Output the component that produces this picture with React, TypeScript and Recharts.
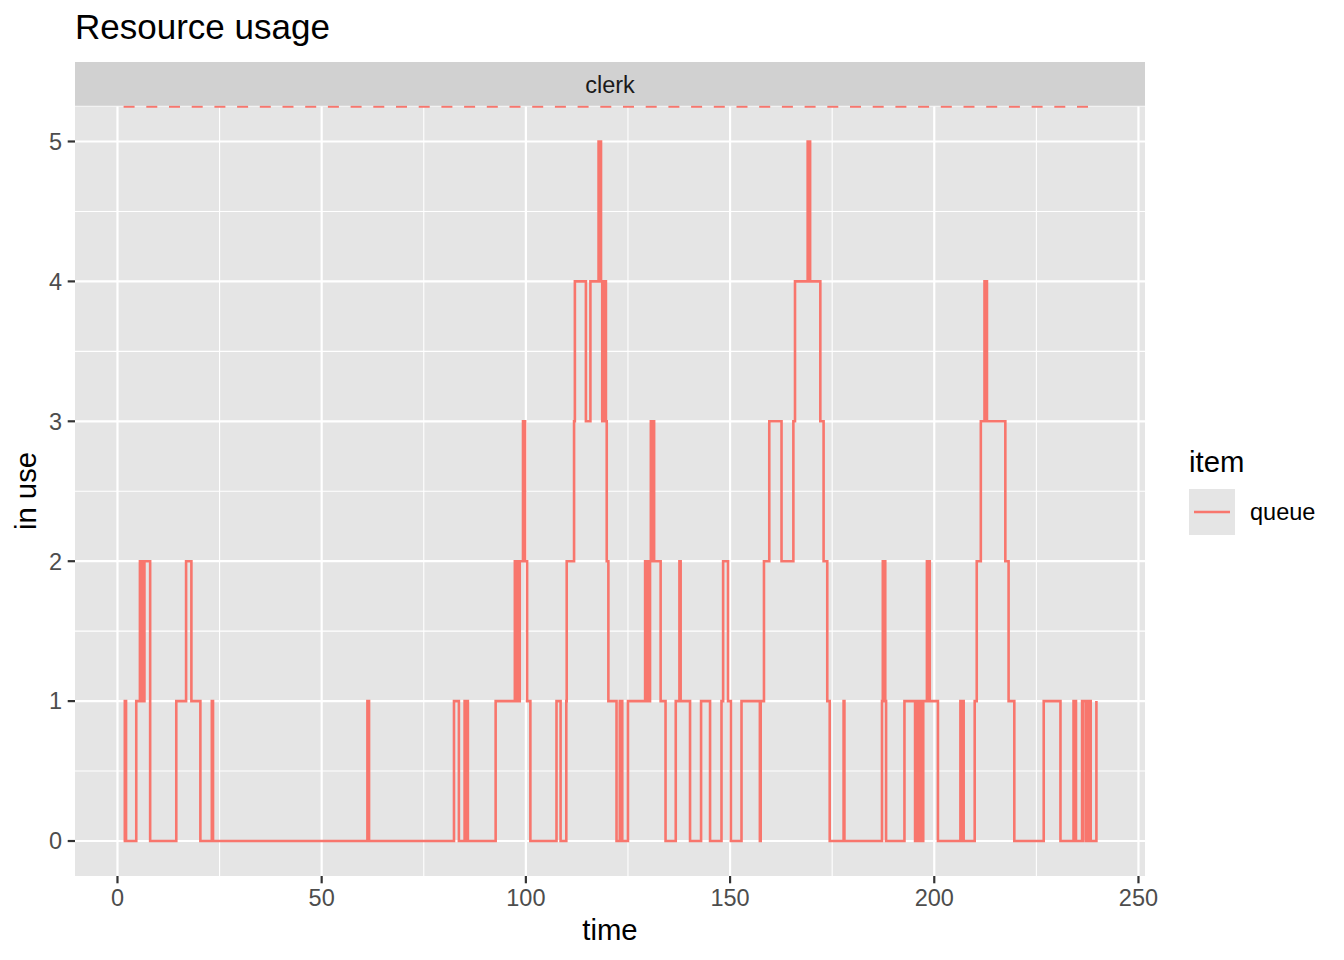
import React from "react";
import { LineChart, Line, XAxis, YAxis, CartesianGrid, ReferenceLine } from "recharts";

// Change points of the "queue" step series (time, value)
const times = [
  1.5, 1.8, 2.1, 4.6, 5.5, 5.8, 6.1, 6.4, 6.6, 8.0,
  14.4, 16.8, 18.1, 20.3, 23.1, 23.4, 61.2, 61.6, 82.4, 83.6,
  85.0, 85.3, 85.5, 85.8, 92.6, 97.3, 97.6, 97.9, 98.2, 98.5,
  99.3, 99.5, 99.6, 99.8, 100.3, 101.1, 107.5, 108.5, 109.9, 110.0,
  111.8, 112.0, 114.7, 115.8, 117.8, 118.0, 118.2, 118.4, 118.7, 118.9,
  119.2, 119.4, 119.6, 119.8, 120.2, 122.2, 123.0, 123.6, 125.0, 129.2,
  129.5, 129.8, 130.1, 130.4, 130.6, 130.9, 131.1, 131.4, 133.0, 134.2,
  136.7, 137.6, 137.9, 140.2, 142.9, 145.1, 147.9, 148.3, 149.5, 150.2,
  152.8, 157.3, 157.5, 158.3, 159.6, 162.6, 165.5, 165.9, 169.0, 169.2,
  169.4, 169.6, 172.1, 172.9, 173.8, 174.4, 177.8, 178.0, 187.2, 187.4,
  187.6, 187.8, 188.0, 188.2, 192.7, 195.3, 195.6, 195.9, 196.2, 196.5,
  196.8, 197.1, 197.3, 198.2, 198.4, 198.6, 198.9, 200.9, 206.4, 206.6,
  206.9, 207.2, 209.9, 210.4, 211.4, 212.3, 212.5, 212.7, 212.9, 217.4,
  218.2, 219.6, 226.8, 230.9, 234.1, 234.3, 234.5, 234.7, 236.2, 236.35,
  236.5, 237.2, 237.8, 238.3, 239.7,
];
const queueValues = [
  0, 1, 0, 1, 2, 1, 2, 1, 2, 0,
  1, 2, 1, 0, 1, 0, 1, 0, 1, 0,
  1, 0, 1, 0, 1, 2, 1, 2, 1, 2,
  3, 2, 3, 2, 1, 0, 1, 0, 1, 2,
  3, 4, 3, 4, 5, 4, 5, 4, 3, 4,
  3, 4, 3, 2, 1, 0, 1, 0, 1, 2,
  1, 2, 1, 2, 3, 2, 3, 2, 1, 0,
  1, 2, 1, 0, 1, 0, 1, 2, 1, 0,
  1, 0, 1, 2, 3, 2, 3, 4, 5, 4,
  5, 4, 3, 2, 1, 0, 1, 0, 1, 2,
  1, 2, 1, 0, 1, 0, 1, 0, 1, 0,
  1, 0, 1, 2, 1, 2, 1, 0, 1, 0,
  1, 0, 1, 2, 3, 4, 3, 4, 3, 2,
  1, 0, 1, 0, 1, 0, 1, 0, 1, 0,
  1, 0, 1, 0, 1,
];

// Dashed capacity line (drawn at the panel top)
const limitStart = 1.5;
const limitEnd = 239.7;
const limitLevel = 5.25;

const xDomain = [-10.4, 251.6];
const yDomain = [-0.25, 5.25];
const xTicks = [0, 50, 100, 150, 200, 250];
const xMinorTicks = [25, 75, 125, 175, 225];
const yTicks = [0, 1, 2, 3, 4, 5];
const yMinorTicks = [0.5, 1.5, 2.5, 3.5, 4.5];

const titleText = "Resource usage";
const stripLabel = "clerk";
const xLabel = "time";
const yLabel = "in use";
const legendTitle = "item";
const legendItem = "queue";

const data = times.map((t, i) => ({ time: t, value: queueValues[i] }));

const FONT = "'Liberation Sans', Arial, Helvetica, sans-serif";
const RED = "#F8766D";
const PANEL = "#E5E5E5";
const STRIP = "#D1D1D1";

export default function App() {
  return (
    <div style={{ position: "absolute", left: 0, top: 0, width: 1344, height: 960, background: "#fff", fontFamily: FONT }}>
      <LineChart
        width={1344}
        height={960}
        data={data}
        margin={{ top: 106.5, right: 199, bottom: 0, left: 0 }}
      >
        <CartesianGrid
          fill={PANEL}
          stroke="#FFFFFF"
          strokeWidth={1.1}
          horizontalValues={yMinorTicks}
          verticalValues={xMinorTicks}
        />
        <CartesianGrid
          stroke="#FFFFFF"
          strokeWidth={2.2}
          horizontalValues={yTicks}
          verticalValues={xTicks}
        />
        <XAxis
          dataKey="time"
          type="number"
          domain={xDomain}
          ticks={xTicks}
          allowDataOverflow
          height={84}
          axisLine={false}
          tickSize={7.3}
          tickMargin={5.7}
          tickLine={{ stroke: "#333333", strokeWidth: 2.2 }}
          tick={{ fill: "#4D4D4D", fontSize: 23.5, fontFamily: FONT }}
          interval={0}
        />
        <YAxis
          type="number"
          domain={yDomain}
          ticks={yTicks}
          allowDataOverflow
          width={75}
          axisLine={false}
          tickSize={7.3}
          tickMargin={5.7}
          tickLine={{ stroke: "#333333", strokeWidth: 2.2 }}
          tick={{ fill: "#4D4D4D", fontSize: 23.5, fontFamily: FONT }}
          interval={0}
        />
        <ReferenceLine
          segment={[
            { x: limitStart, y: limitLevel },
            { x: limitEnd, y: limitLevel },
          ]}
          stroke={RED}
          strokeWidth={2.4}
          strokeDasharray="11 11.7"
          ifOverflow="visible"
        />
        <Line
          type="stepAfter"
          dataKey="value"
          stroke={RED}
          strokeWidth={2.6}
          dot={false}
          activeDot={false}
          isAnimationActive={false}
        />
      </LineChart>
      <svg
        width={1344}
        height={960}
        style={{ position: "absolute", left: 0, top: 0, pointerEvents: "none" }}
      >
        <text x={75} y={39} fontSize={35} fill="#000000" fontFamily={FONT}>
          {titleText}
        </text>
        <rect x={75} y={62} width={1070} height={43.8} fill={STRIP} />
        <text x={610} y={93} fontSize={23.5} fill="#1A1A1A" textAnchor="middle" fontFamily={FONT}>
          {stripLabel}
        </text>
        <text x={610} y={940} fontSize={29.3} fill="#000000" textAnchor="middle" fontFamily={FONT}>
          {xLabel}
        </text>
        <text
          x={0}
          y={0}
          fontSize={29.3}
          fill="#000000"
          textAnchor="middle"
          fontFamily={FONT}
          transform="translate(36 491) rotate(-90)"
        >
          {yLabel}
        </text>
        <text x={1189} y={472} fontSize={29.3} fill="#000000" fontFamily={FONT}>
          {legendTitle}
        </text>
        <rect x={1189} y={489} width={46} height={46} fill={PANEL} />
        <line x1={1194} y1={512} x2={1230} y2={512} stroke={RED} strokeWidth={2.6} />
        <text x={1250} y={520} fontSize={23.5} fill="#000000" fontFamily={FONT}>
          {legendItem}
        </text>
      </svg>
    </div>
  );
}
